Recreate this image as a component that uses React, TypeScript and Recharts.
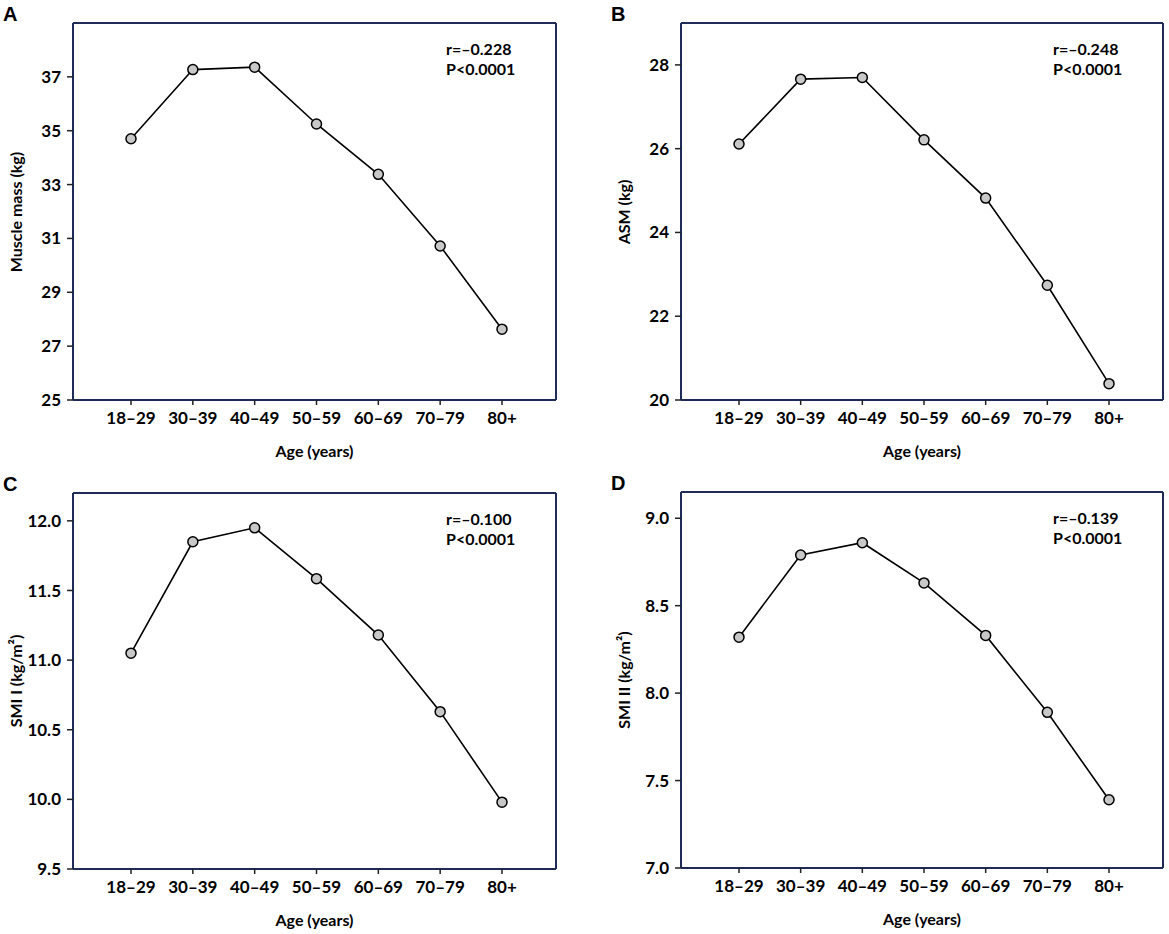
import React from 'react';
import { LineChart, Line, XAxis, YAxis } from 'recharts';

const ageGroups = ['18\u201329', '30\u201339', '40\u201349', '50\u201359', '60\u201369', '70\u201379', '80+'];

const muscleMass = [34.7, 37.27, 37.36, 35.25, 33.38, 30.72, 27.63];
const asm = [26.11, 27.66, 27.7, 26.21, 24.82, 22.74, 20.39];
const smi1 = [11.05, 11.85, 11.95, 11.585, 11.18, 10.63, 9.98];
const smi2 = [8.32, 8.79, 8.86, 8.63, 8.33, 7.89, 7.39];

const ticksA = [25, 27, 29, 31, 33, 35, 37];
const ticksB = [20, 22, 24, 26, 28];
const ticksC = [9.5, 10, 10.5, 11, 11.5, 12];
const ticksD = [7, 7.5, 8, 8.5, 9];

const FONT = 'Lato, "Open Sans", sans-serif';
const NAVY = '#1f2b57';

interface PanelProps {
  letter: string;
  values: number[];
  yLabel: string;
  ticks: number[];
  domain: [number, number];
  decimals: number;
  r: string;
  // chart placement on the page
  cl: number;
  ct: number;
  cw: number;
  ch: number;
  // plot box on the page
  box: { l: number; r: number; t: number; b: number };
}

const Y_W = 60;
const X_H = 40;

const Panel: React.FC<PanelProps> = ({ letter, values, yLabel, ticks, domain, decimals, r, cl, ct, cw, ch, box }) => {
  const data = ageGroups.map((g, i) => ({ group: g, value: values[i] }));
  // the top / right frame axes take 1px each
  const margin = {
    top: box.t - ct - 1,
    left: box.l - cl - Y_W,
    right: cl + cw - box.r - 1,
    bottom: ct + ch - box.b - X_H,
  };
  const tickStyle = { fill: '#000', fontSize: 17, fontWeight: 700, fontFamily: FONT };
  const boxLine = { stroke: NAVY, strokeWidth: 2 };
  const midX = (box.l + box.r) / 2;
  const midY = (box.t + box.b) / 2;

  return (
    <>
      <div style={{ position: 'absolute', left: cl, top: ct }}>
        <LineChart width={cw} height={ch} data={data} margin={margin} style={{ fontFamily: FONT }}>
          <XAxis
            dataKey="group"
            interval={0}
            padding={{ left: 58, right: 54 }}
            tick={tickStyle}
            tickSize={5}
            tickMargin={7}
            height={X_H}
            axisLine={boxLine}
            tickLine={{ stroke: '#222', strokeWidth: 1.5 }}
          />
          <XAxis
            xAxisId="top"
            orientation="top"
            dataKey="group"
            padding={{ left: 58, right: 54 }}
            height={1}
            tick={false}
            tickLine={false}
            axisLine={boxLine}
          />
          <YAxis
            type="number"
            domain={domain}
            ticks={ticks}
            interval={0}
            allowDataOverflow
            width={Y_W}
            tick={tickStyle}
            tickSize={6}
            tickMargin={6}
            tickFormatter={(v: number) => v.toFixed(decimals)}
            axisLine={boxLine}
            tickLine={{ stroke: '#222', strokeWidth: 1.5 }}
          />
          <YAxis
            yAxisId="right"
            orientation="right"
            type="number"
            domain={domain}
            width={1}
            tick={false}
            tickLine={false}
            axisLine={boxLine}
          />
          <Line
            type="linear"
            dataKey="value"
            stroke="#000"
            strokeWidth={1.6}
            dot={{ r: 5, fill: '#c8c8c8', stroke: '#000', strokeWidth: 1.5 }}
            activeDot={false}
            isAnimationActive={false}
          />
        </LineChart>
      </div>
      <div style={{ position: 'absolute', left: box.l - 70, top: box.t - 19, fontFamily: '"Liberation Sans", Arial, sans-serif', fontWeight: 700, fontSize: 20, lineHeight: '20px' }}>
        {letter}
      </div>
      <div style={{ position: 'absolute', left: box.r - 110, top: box.t + 16, fontFamily: FONT, fontWeight: 700, fontSize: 16, lineHeight: '20px', whiteSpace: 'nowrap' }}>
        <div>{r}</div>
        <div>P&lt;0.0001</div>
      </div>
      <div style={{ position: 'absolute', left: midX, top: box.b + 41, transform: 'translateX(-50%)', fontFamily: FONT, fontWeight: 700, fontSize: 16, lineHeight: '20px', whiteSpace: 'nowrap' }}>
        Age (years)
      </div>
      <div style={{ position: 'absolute', left: box.l - 57, top: midY, transform: 'translate(-50%, -50%) rotate(-90deg)', fontFamily: FONT, fontWeight: 700, fontSize: 16, lineHeight: '20px', whiteSpace: 'nowrap' }}>
        {yLabel}
      </div>
    </>
  );
};

const App: React.FC = () => {
  return (
    <div style={{ position: 'absolute', left: 0, top: 0, width: 1169, height: 934, background: '#fff', color: '#000' }}>
      <Panel
        letter="A" values={muscleMass} yLabel="Muscle mass (kg)" ticks={ticksA} domain={[25, 39]} decimals={0}
        r={'r=\u20130.228'} cl={0} ct={0} cw={590} ch={470} box={{ l: 73, r: 556, t: 23, b: 400 }}
      />
      <Panel
        letter="B" values={asm} yLabel="ASM (kg)" ticks={ticksB} domain={[20, 29]} decimals={0}
        r={'r=\u20130.248'} cl={590} ct={0} cw={579} ch={470} box={{ l: 681, r: 1163, t: 23, b: 400 }}
      />
      <Panel
        letter="C" values={smi1} yLabel={'SMI I (kg/m\u00b2)'} ticks={ticksC} domain={[9.5, 12.2]} decimals={1}
        r={'r=\u20130.100'} cl={0} ct={470} cw={590} ch={464} box={{ l: 73, r: 556, t: 493, b: 869 }}
      />
      <Panel
        letter="D" values={smi2} yLabel={'SMI II (kg/m\u00b2)'} ticks={ticksD} domain={[7, 9.15]} decimals={1}
        r={'r=\u20130.139'} cl={590} ct={470} cw={579} ch={464} box={{ l: 681, r: 1163, t: 492, b: 868 }}
      />
    </div>
  );
};

export default App;
